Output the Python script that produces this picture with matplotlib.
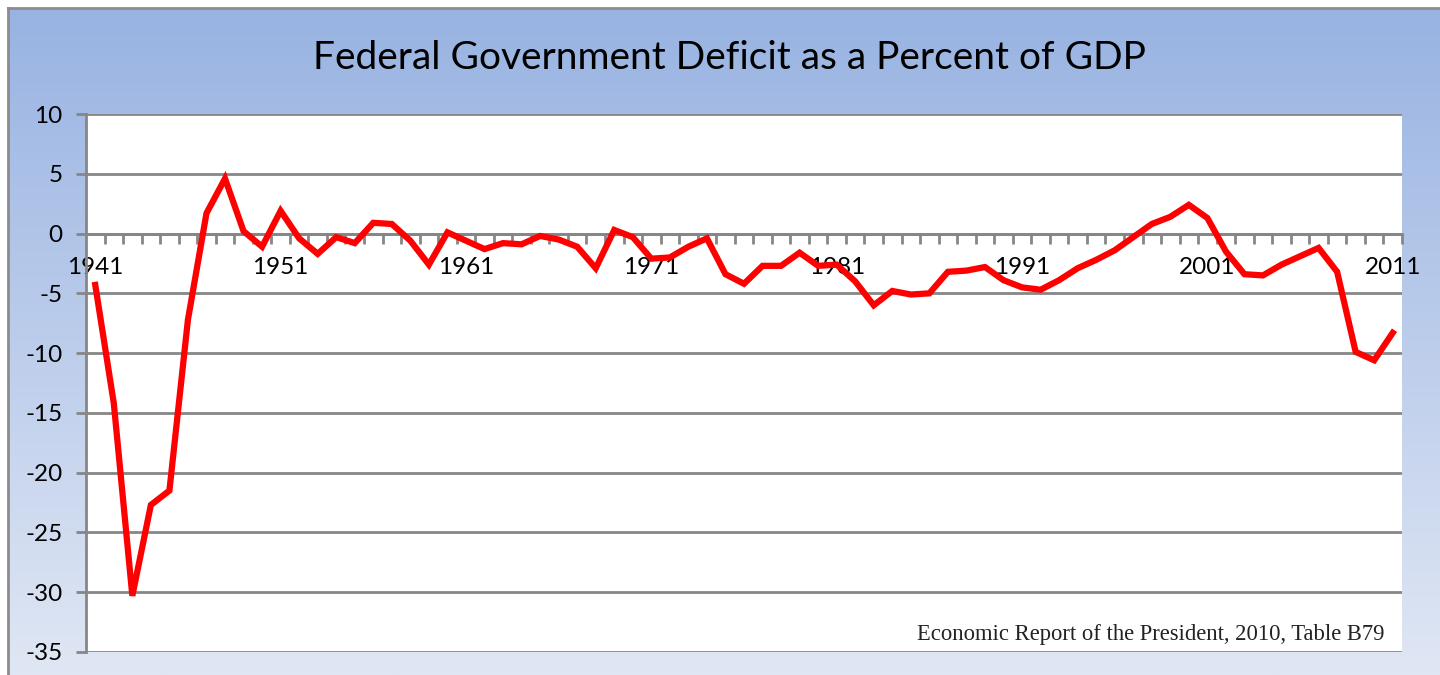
import numpy as np
import matplotlib
matplotlib.use("Agg")
import matplotlib.pyplot as plt

plt.rcParams["axes.unicode_minus"] = False

# Federal deficit (-) / surplus (+) as percent of GDP, fiscal years 1941-2011
years = list(range(1941, 2012))
deficit = [-4.3, -14.2, -30.3, -22.7, -21.5, -7.2, 1.7, 4.6, 0.2, -1.1,
           1.9, -0.4, -1.7, -0.3, -0.8, 0.9, 0.8, -0.6, -2.6, 0.1,
           -0.6, -1.3, -0.8, -0.9, -0.2, -0.5, -1.1, -2.9, 0.3, -0.3,
           -2.1, -2.0, -1.1, -0.4, -3.4, -4.2, -2.7, -2.7, -1.6, -2.7,
           -2.6, -4.0, -6.0, -4.8, -5.1, -5.0, -3.2, -3.1, -2.8, -3.9,
           -4.5, -4.7, -3.9, -2.9, -2.2, -1.4, -0.3, 0.8, 1.4, 2.4,
           1.3, -1.5, -3.4, -3.5, -2.6, -1.9, -1.2, -3.2, -9.9, -10.6,
           -8.3]
year_labels = [1941, 1951, 1961, 1971, 1981, 1991, 2001, 2011]
y_ticks = [10, 5, 0, -5, -10, -15, -20, -25, -30, -35]

title = "Federal Government Deficit as a Percent of GDP"
source = "Economic Report of the President, 2010, Table B79"

W, H = 1440, 675
fig = plt.figure(figsize=(W / 100, H / 100), dpi=100, facecolor="white")

# chart area with vertical gradient
bg = fig.add_axes([8 / W, 0, 1 - 8 / W, 1 - 8 / H], zorder=0)
top = np.array([152, 179, 226]) / 255
bot = np.array([224, 231, 244]) / 255
t = np.linspace(0, 1, 256)[:, None]
grad = (top[None, :] * (1 - t) + bot[None, :] * t)[:, None, :]
bg.imshow(grad, aspect="auto", extent=[0, 1, 0, 1], origin="upper")
bg.set_xlim(0, 1)
bg.set_ylim(0, 1)
bg.set_xticks([])
bg.set_yticks([])
for side in ["right", "bottom"]:
    bg.spines[side].set_visible(False)
for side in ["top", "left"]:
    bg.spines[side].set_color("#8c8c8c")
    bg.spines[side].set_linewidth(2)

fig.text(729 / W, 1 - 58 / H, title, ha="center", va="center",
         fontsize=28, family="Lato", color="black")

ax = fig.add_axes([86 / W, 1 - 652 / H, 1316 / W, 538 / H], zorder=1)
ax.set_facecolor("white")
ax.set_xlim(1940.5, 2011.5)
ax.set_ylim(-35, 10)

grid_c = "#868686"
ax.set_yticks(y_ticks)
ax.yaxis.grid(True, color=grid_c, linewidth=2)
ax.set_axisbelow(True)
ax.tick_params(axis="y", direction="out", length=7, width=2, color=grid_c,
               labelsize=17.5, pad=10)

# category axis sits on zero
ax.spines["bottom"].set_position(("data", 0))
ax.spines["bottom"].set_color(grid_c)
ax.spines["bottom"].set_linewidth(2)
ax.spines["left"].set_color(grid_c)
ax.spines["left"].set_linewidth(2)
ax.spines["top"].set_visible(False)
ax.spines["right"].set_visible(False)

ax.set_xticks(year_labels)
ax.set_xticks(np.arange(1941.5, 2012, 1.0), minor=True)
ax.tick_params(axis="x", which="major", length=0, labelsize=17.5, pad=17)
ax.tick_params(axis="x", which="minor", direction="out", length=7, width=2,
               color=grid_c)

for lab in ax.get_xticklabels() + ax.get_yticklabels():
    lab.set_family("Lato")

ax.plot(years, deficit, color="#ff0000", linewidth=4.5, solid_joinstyle="miter",
        zorder=3)

ax.text(0.9863, 0.0316, source, transform=ax.transAxes, ha="right",
        va="center", fontsize=16.3, family="Liberation Serif", color="#222222")

fig.savefig("out.png", dpi=100)
